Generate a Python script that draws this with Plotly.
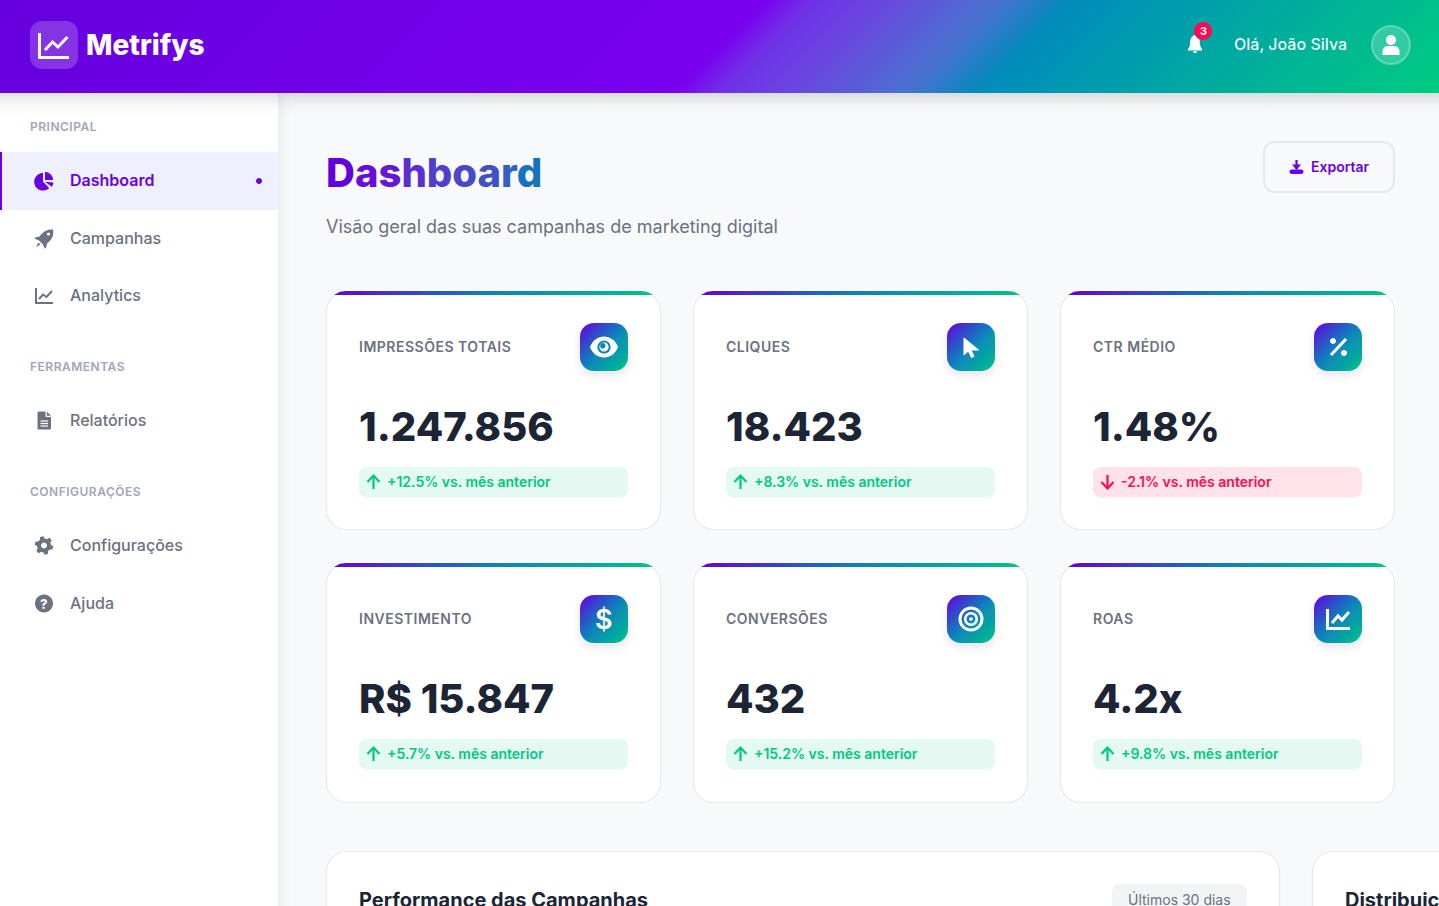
import base64
import numpy as np
import plotly.graph_objects as go

# ---- page content ----
brand = "Metrifys"
user_name = "Olá, João Silva"
notif_count = "3"
page_title = "Dashboard"
page_sub = "Visão geral das suas campanhas de marketing digital"
export_label = "Exportar"

nav_sections = ["PRINCIPAL", "FERRAMENTAS", "CONFIGURAÇÕES"]
nav_section_y = [126, 366, 491]
nav_items = ["Dashboard", "Campanhas", "Analytics", "Relatórios", "Configurações", "Ajuda"]
nav_y = [180, 238, 295, 420, 545, 603]

card_labels = ["IMPRESSÕES TOTAIS", "CLIQUES", "CTR MÉDIO", "INVESTIMENTO", "CONVERSÕES", "ROAS"]
card_values = ["1.247.856", "18.423", "1.48%", "R$ 15.847", "432", "4.2x"]
card_deltas = ["+12.5%", "+8.3%", "-2.1%", "+5.7%", "+15.2%", "+9.8%"]
card_up = [True, True, False, True, True, True]
card_x = [326, 693, 1060]
card_top = [291, 563]

panel_titles = ["Performance das Campanhas", "Distribuição por Canal"]
panel_badge = "Últimos 30 dias"

title_colors = ["#6400dc", "#6a0cd8", "#6418d4", "#5a2ed0", "#5040cc", "#4a48c6", "#3f52c2", "#2f62c0", "#1572bc"]

# colours
PURPLE = "#6a00e4"
GREEN = "#00c97f"
RED = "#ff0a50"
GREY = "#6b7280"
DARK = "#1c2536"
ICON_BLUE = "#0a84bc"
W, H = 1439, 906
K = 0.5523

shapes = []
annotations = []
images = []


def rrect(x0, y0, x1, y1, r):
    c = r * (1 - K)
    return (f"M{x0+r},{y0} L{x1-r},{y0} C{x1-c},{y0} {x1},{y0+c} {x1},{y0+r} "
            f"L{x1},{y1-r} C{x1},{y1-c} {x1-c},{y1} {x1-r},{y1} "
            f"L{x0+r},{y1} C{x0+c},{y1} {x0},{y1-c} {x0},{y1-r} "
            f"L{x0},{y0+r} C{x0},{y0+c} {x0+c},{y0} {x0+r},{y0} Z")


def circ(cx, cy, r):
    k = r * K
    return (f"M{cx-r},{cy} C{cx-r},{cy-k} {cx-k},{cy-r} {cx},{cy-r} "
            f"C{cx+k},{cy-r} {cx+r},{cy-k} {cx+r},{cy} "
            f"C{cx+r},{cy+k} {cx+k},{cy+r} {cx},{cy+r} "
            f"C{cx-k},{cy+r} {cx-r},{cy+k} {cx-r},{cy} Z")


def poly(pts, close=True):
    s = "M" + " L".join(f"{round(float(a), 2)},{round(float(b), 2)}" for a, b in pts)
    return s + (" Z" if close else "")


def sector(cx, cy, r, a0, a1):
    # angles in degrees, 0 = up, clockwise
    t = np.radians(np.linspace(a0, a1, 30))
    pts = [(cx, cy)] + list(zip(cx + r * np.sin(t), cy - r * np.cos(t)))
    return poly(pts)


def add(path, fill="rgba(0,0,0,0)", line=None, lw=0, layer="above"):
    shapes.append(dict(type="path", path=path, xref="x", yref="y", layer=layer, fillcolor=fill,
                       line=dict(color=line if line else "rgba(0,0,0,0)", width=lw)))


def stroke(pts, color, lw, layer="above"):
    add(poly(pts, close=False), line=color, lw=lw, layer=layer)


def text(x, y, s, size, color, weight=400, anchor="left"):
    annotations.append(dict(x=x, y=y, text=s, showarrow=False, xref="x", yref="y", xanchor=anchor, yanchor="middle",
                            borderpad=0, borderwidth=0, font=dict(family="Inter", size=size, color=color, weight=weight)))


def svg_image(x, y, w, h, body, layer="above"):
    svg = f'<svg xmlns="http://www.w3.org/2000/svg" width="{w}" height="{h}" viewBox="0 0 {w} {h}">{body}</svg>'
    uri = "data:image/svg+xml;base64," + base64.b64encode(svg.encode()).decode()
    images.append(dict(source=uri, xref="paper", yref="paper", x=x / W, y=1 - y / H, sizex=w / W, sizey=h / H,
                       xanchor="left", yanchor="top", sizing="stretch", layer=layer))


def css_gradient(gid, w, h, stops, ox=0, oy=0):
    # same geometry as css linear-gradient(135deg, ...)
    half = (w + h) / 4
    cx, cy = ox + w / 2, oy + h / 2
    st = "".join(f'<stop offset="{o}" stop-color="{c}"/>' for o, c in stops)
    return (f'<linearGradient id="{gid}" gradientUnits="userSpaceOnUse" x1="{cx-half}" y1="{cy-half}" '
            f'x2="{cx+half}" y2="{cy+half}">{st}</linearGradient>')


def fade(gid, vertical, stops):
    x2, y2 = (0, 1) if vertical else (1, 0)
    st = "".join(f'<stop offset="{o}" stop-color="#000" stop-opacity="{a}"/>' for o, a in stops)
    return f'<linearGradient id="{gid}" x1="0" y1="0" x2="{x2}" y2="{y2}">{st}</linearGradient>'


def icon_tile(x, y):
    pad = 20
    size = 48
    defs = css_gradient("g", size, size, [(0, "#6400dc"), (0.5, "#0a84bc"), (1, "#00c585")], pad, pad)
    flt = ('<filter id="s" x="-50%" y="-50%" width="200%" height="200%">'
           '<feDropShadow dx="0" dy="4" stdDeviation="5" flood-color="#000" flood-opacity="0.1"/></filter>')
    body = (f'<defs>{defs}{flt}</defs><rect x="{pad}" y="{pad}" width="{size}" height="{size}" rx="14" '
            f'fill="url(#g)" filter="url(#s)"/>')
    svg_image(x - pad, y - pad, size + 2 * pad, size + 2 * pad, body)


# ---- page frame ----
add(f"M0,93 L278,93 L278,{H} L0,{H} Z", fill="#ffffff", layer="below")
svg_image(278, 93, 14, H - 93, "<defs>" + fade("f", False, [(0, 0.045), (0.4, 0.02), (1, 0)]) +
          '</defs><rect width="14" height="813" fill="url(#f)"/>')

header_stops = [(0, "#6500dc"), (0.5, "#7a00f0"), (0.53, "#7030e8"), (0.58, "#6a48e0"), (0.65, "#4a70d0"),
                (0.70, "#008cbc"), (1, "#00cc80")]
svg_image(0, 0, W, 93, "<defs>" + css_gradient("h", W, 93, header_stops) + f'</defs><rect width="{W}" height="93" fill="url(#h)"/>')
svg_image(0, 93, W, 24, "<defs>" + fade("d", True, [(0, 0.115), (0.25, 0.07), (0.5, 0.03), (0.75, 0.01), (1, 0)]) +
          f'</defs><rect width="{W}" height="24" fill="url(#d)"/>')

# logo
add(rrect(30, 21, 78, 69, 12), fill="rgba(255,255,255,0.2)")
stroke([(39.5, 33), (39.5, 57.5), (69, 57.5)], "#ffffff", 3)
stroke([(45, 50), (52.5, 42), (58, 47), (67.5, 37)], "#ffffff", 3)
text(86, 44.5, brand, 28, "#ffffff", 800)

# bell + badge
add("M1195,35 C1191,36 1190,40 1190,44 C1190,46 1189,47.5 1188,48.5 L1188,50.5 L1202,50.5 L1202,48.5 "
    "C1201,47.5 1200,46 1200,44 C1200,40 1199,36 1195,35 Z", fill="#ffffff")
add(rrect(1193, 51.3, 1197, 52.8, 0.7), fill="#ffffff")
add(circ(1203, 31, 9), fill=RED)
text(1203, 30.5, notif_count, 11, "#ffffff", 700, "center")
text(1234, 43.5, user_name, 16, "rgba(255,255,255,0.95)", 500)
add(circ(1391, 45, 19), fill="rgba(255,255,255,0.2)", line="rgba(255,255,255,0.3)", lw=2)
add(circ(1391, 40, 5), fill="#ffffff")
add("M1382.5,55 L1382.5,52 C1382.5,48 1385,46 1388,46 L1394,46 C1397,46 1399.5,48 1399.5,52 L1399.5,55 Z", fill="#ffffff")

# sidebar
add(f"M0,152 L278,152 L278,210 L0,210 Z", fill="#eef0fd", layer="below")
add("M0,152 L2,152 L2,210 L0,210 Z", fill=PURPLE)
add(circ(259, 181, 3), fill=PURPLE)

for label, y in zip(nav_sections, nav_section_y):
    text(30, y, f'<span style="letter-spacing:0.5px">{label}</span>', 12, "#a0a6b6", 600)
for i, (label, y) in enumerate(zip(nav_items, nav_y)):
    text(70, y, label, 16, PURPLE if i == 0 else GREY, 600 if i == 0 else 500)

# dashboard pie icon
add(sector(43, 181.8, 8.8, 135, 360), fill=PURPLE)
add(sector(45, 180, 8, 0, 90), fill=PURPLE)
add(sector(45, 181.8, 8.4, 95, 126), fill=PURPLE)

# rocket
add("M53,229.5 C47.5,229 43,231.5 39.5,236.5 L35,237.5 C34.5,238 35,238.5 35.5,239 L39,240.5 L43,244.5 "
    "L44.5,248 C45,248.5 45.5,248.5 46,248 L47,243.5 C52,240 54,235 53,229.5 Z", fill=GREY)
add(poly([(38.5, 242.5), (40.5, 244.5), (36, 247)]), fill=GREY)
add(circ(48.5, 234, 1.6), fill="#ffffff")

# analytics
stroke([(36, 288), (36, 303), (53, 303)], GREY, 2)
stroke([(39, 299), (43, 294.5), (46.5, 297), (52, 291)], GREY, 2)

# file
add("M37.5,413 C37.5,412 38,411.5 39,411.5 L45.5,411.5 L45.5,415.5 C45.5,416.5 46,417 47,417 L51,417 L51,428 "
    "C51,429 50.5,429.5 49.5,429.5 L39,429.5 C38,429.5 37.5,429 37.5,428 Z", fill=GREY)
add(poly([(46.8, 411.5), (51, 415.7), (46.8, 415.7)]), fill=GREY)
for ly in [421, 423.5, 426]:
    stroke([(40.5, ly), (48, ly)], "#ffffff", 1.2)

# gear
t = np.radians(np.arange(0, 360, 360 / 48) + 3.75)
r = np.where(np.arange(48) % 8 < 4, 9.2, 7.0)
add(poly(list(zip(44 + r * np.cos(t), 545.5 + r * np.sin(t)))), fill=GREY)
add(circ(44, 545.5, 3), fill="#ffffff")

# help
add(circ(44, 603.5, 9), fill=GREY)
text(44, 603.5, "?", 13, "#ffffff", 800, "center")

# title block
title_letters = "".join(f'<span style="color:{c}">{ch}</span>' for ch, c in zip(page_title, title_colors))
text(326, 172.5, title_letters, 40, PURPLE, 800)
text(326, 226, page_sub, 18, GREY, 400)

# export button
add(rrect(1264, 142, 1394, 192, 11), line="#e6e8ef", lw=2, layer="below")
stroke([(1296.5, 160), (1296.5, 169)], PURPLE, 2.2)
add(poly([(1292, 164.5), (1301, 164.5), (1296.5, 170)]), fill=PURPLE)
add(rrect(1289.5, 169.5, 1303.5, 174, 2.2), fill=PURPLE)
text(1311, 166.5, export_label, 14, PURPLE, 600)


def card_strip(x, top, w=335, r=20, h=4):
    # top accent of a card, clipped by its rounded corners
    a = np.arccos((r - h) / r)
    left = np.linspace(-a, 0, 12)
    right = np.linspace(0, a, 12)
    xs = np.concatenate([x + r + r * np.sin(left), x + w - r + r * np.sin(right)])
    ys = np.concatenate([top + r - r * np.cos(left), top + r - r * np.cos(right)])
    return go.Scatter(x=xs, y=ys, mode="lines", line=dict(width=0), fill="toself", hoverinfo="skip", showlegend=False,
                      fillgradient=dict(type="horizontal", start=x, stop=x + w,
                                        colorscale=[[0, "#6400dc"], [0.5, "#0a84bc"], [1, "#00c585"]]))


traces = []
for i in range(6):
    x = card_x[i % 3]
    top = card_top[i // 3]
    bottom = top + (239 if i < 3 else 240)
    add(rrect(x + 0.5, top + 0.5, x + 334.5, bottom - 0.5, 20), fill="#ffffff", line="#e7e9ef", lw=1.2, layer="below")
    traces.append(card_strip(x, top))
    icon_tile(x + 254, top + 32)
    text(x + 33, top + 55, f'<span style="letter-spacing:0.5px">{card_labels[i]}</span>', 14, GREY, 600)
    text(x + 33, top + 135.5, card_values[i], 40, DARK, 800)
    color = GREEN if card_up[i] else RED
    add(rrect(x + 33, top + 176, x + 302, top + 206.5, 8), fill="#e3f9f1" if card_up[i] else "#ffe2ea", layer="below")
    text(x + 61, top + 190.5, f"{card_deltas[i]} vs. mês anterior", 14, color, 600)
    ax = x + 47.5
    ay = top + 191
    if card_up[i]:
        stroke([(ax, ay - 6), (ax, ay + 7)], color, 2.2)
        stroke([(ax - 6, ay), (ax, ay - 6.5), (ax + 6, ay)], color, 2.2)
    else:
        stroke([(ax, ay - 7), (ax, ay + 6)], color, 2.2)
        stroke([(ax - 6, ay), (ax, ay + 6.5), (ax + 6, ay)], color, 2.2)

# card glyphs
# eye
add("M590,347 C595,333 613,333 618,347 C613,361 595,361 590,347 Z", fill="#ffffff")
add(circ(604, 347, 6.6), fill=ICON_BLUE)
add(circ(604, 347, 4.6), fill="#ffffff")
add(circ(602.8, 345.8, 2.7), fill=ICON_BLUE)
# cursor
add(poly([(964, 338), (964, 355), (968.3, 351), (971.5, 357.5), (974, 356.2), (971, 350), (978.5, 350)]),
    fill="#ffffff", line="#ffffff", lw=1)
# percent
stroke([(1346, 339), (1331, 355)], "#ffffff", 3)
add(circ(1333, 341, 3), fill="#ffffff")
add(circ(1344, 353, 3), fill="#ffffff")
# dollar
text(604, 619, "$", 27, "#ffffff", 600, "center")
# bullseye
add(circ(971, 619, 11), line="#ffffff", lw=3)
add(circ(971, 619, 5.8), line="#ffffff", lw=2.6)
add(circ(971, 619, 1.8), fill="#ffffff")
# roas chart
stroke([(1327.5, 609), (1327.5, 628.5), (1350, 628.5)], "#ffffff", 3)
stroke([(1332, 623), (1338, 616), (1342, 620), (1349, 612)], "#ffffff", 3)

# bottom panels (run off the page)
add(rrect(326.5, 851.5, 1279.5, 960, 20), fill="#ffffff", line="#e7e9ef", lw=1.2, layer="below")
add(rrect(1312.5, 851.5, 1600, 960, 20), fill="#ffffff", line="#e7e9ef", lw=1.2, layer="below")
text(359, 899.5, panel_titles[0], 20, DARK, 700)
text(1345, 899.5, panel_titles[1], 20, DARK, 700)
add(rrect(1112, 884, 1247, 930, 8), fill="#f3f4f6", layer="below")
text(1179.5, 899, panel_badge, 14, GREY, 400, "center")

fig = go.Figure(traces)
fig.update_layout(
    width=W,
    height=H,
    margin=dict(l=0, r=0, t=0, b=0),
    paper_bgcolor="#f8f9fb",
    plot_bgcolor="rgba(0,0,0,0)",
    showlegend=False,
    xaxis=dict(range=[0, W], visible=False, fixedrange=True),
    yaxis=dict(range=[H, 0], visible=False, fixedrange=True),
    shapes=shapes,
    annotations=annotations,
    images=images,
)
fig.write_html("out.html", config={"displayModeBar": False}, post_script="document.body.style.margin='0';")
